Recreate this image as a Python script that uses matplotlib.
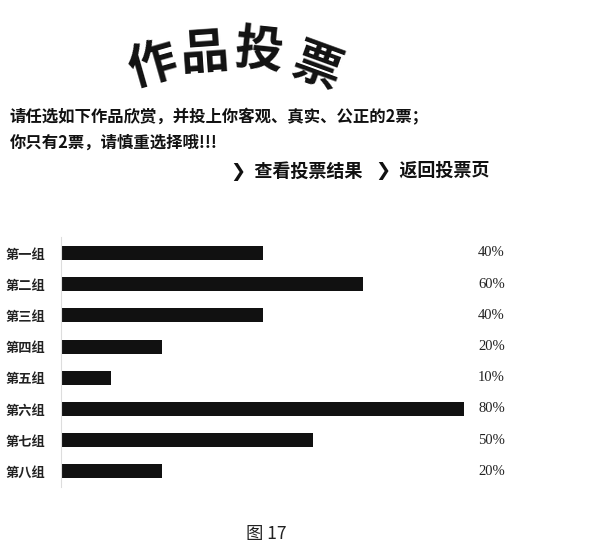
import matplotlib.pyplot as plt

plt.rcParams['font.family'] = ['Noto Sans CJK SC', 'DejaVu Sans']

# data
groups = ['第一组', '第二组', '第三组', '第四组', '第五组', '第六组', '第七组', '第八组']
votes = [40, 60, 40, 20, 10, 80, 50, 20]

title_chars = ['作', '品', '投', '票']
line1 = '请任选如下作品欣赏，并投上你客观、真实、公正的2票；'
line2 = '你只有2票，请慎重选择哦!!!'
link1 = '❯  查看投票结果'
link2 = '❯  返回投票页'
caption = '图 17'

W, H = 598, 550
fig = plt.figure(figsize=(W / 100, H / 100), dpi=100)
fig.patch.set_facecolor('white')


def fx(px):
    return px / W


def fy(py):
    return 1 - py / H


# arched title, one character at a time
title_pos = [(153, 66, 16), (205, 54, 4), (259, 52, -6), (317, 68, -20)]
for ch, (x, y, rot) in zip(title_chars, title_pos):
    fig.text(fx(x), fy(y), ch, fontsize=35, fontweight='bold', rotation=rot,
             ha='center', va='center', color='#111111')

fig.text(fx(10), fy(117), line1, fontsize=11.8, fontweight='bold',
         ha='left', va='center', color='#111111')
fig.text(fx(10), fy(143), line2, fontsize=11.8, fontweight='bold',
         ha='left', va='center', color='#111111')
fig.text(fx(231), fy(171), link1, fontsize=13, fontweight='bold',
         ha='left', va='center', color='#111111')
fig.text(fx(376), fy(171), link2, fontsize=13, fontweight='bold',
         ha='left', va='center', color='#111111')

# bar area: 0..80 % -> x 61..464 px, rows centred 253..472 px
row = 31.2
top = 253 - row / 2
ax = fig.add_axes([fx(61), fy(top + 8 * row), fx(464) - fx(61), 8 * row / H])
ax.barh(range(len(groups)), votes, height=0.45, color='#111111')
ax.set_xlim(0, 80)
ax.set_ylim(len(groups) - 0.5, -0.5)
ax.set_yticks(range(len(groups)))
ax.set_yticklabels(groups, fontsize=9.5, fontweight='bold', color='#222222')
ax.tick_params(axis='y', length=0, pad=11)
ax.set_xticks([])
for s in ['top', 'right', 'bottom']:
    ax.spines[s].set_visible(False)
ax.spines['left'].set_color('#dddddd')
ax.spines['left'].set_linewidth(0.8)

# percentage column on the right, at x = 478 px
label_x = (478 - 61) / (464 - 61)
for i, v in enumerate(votes):
    ax.text(label_x, i, f'{v}%', transform=ax.get_yaxis_transform(),
            fontsize=10.5, family='Liberation Serif', va='center', ha='left',
            color='#222222')

fig.text(fx(266), fy(534), caption, fontsize=12.5, ha='center', va='center',
         color='#222222')

fig.savefig('out.png', dpi=100, facecolor='white')
